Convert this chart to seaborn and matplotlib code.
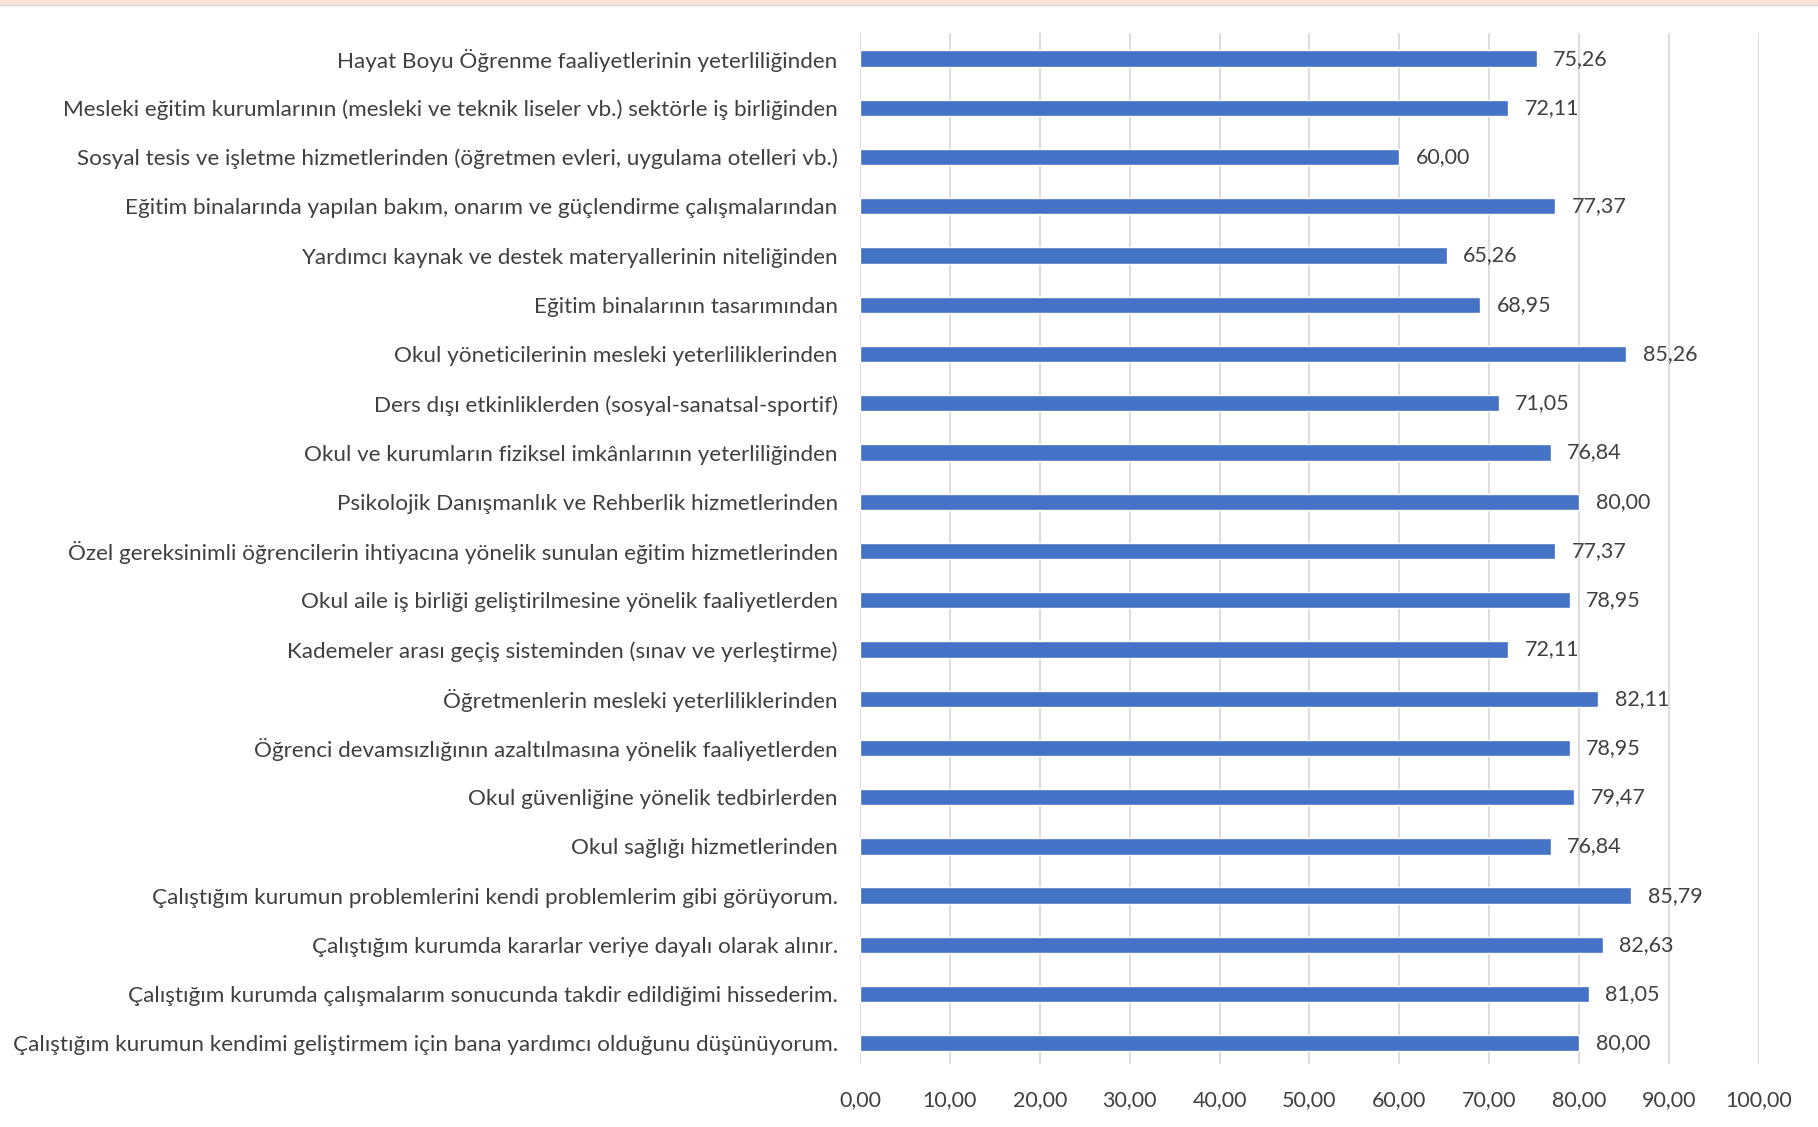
import pandas as pd
import seaborn as sns
import matplotlib.pyplot as plt
import matplotlib.ticker as ticker

# Items, top to bottom as shown in the chart
items = [
    "Hayat Boyu Öğrenme faaliyetlerinin yeterliliğinden",
    "Mesleki eğitim kurumlarının (mesleki ve teknik liseler vb.) sektörle iş birliğinden",
    "Sosyal tesis ve işletme hizmetlerinden (öğretmen evleri, uygulama otelleri vb.)",
    "Eğitim binalarında yapılan bakım, onarım ve güçlendirme çalışmalarından",
    "Yardımcı kaynak ve destek materyallerinin niteliğinden",
    "Eğitim binalarının tasarımından",
    "Okul yöneticilerinin mesleki yeterliliklerinden",
    "Ders dışı etkinliklerden (sosyal-sanatsal-sportif)",
    "Okul ve kurumların fiziksel imkânlarının yeterliliğinden",
    "Psikolojik Danışmanlık ve Rehberlik hizmetlerinden",
    "Özel gereksinimli öğrencilerin ihtiyacına yönelik sunulan eğitim hizmetlerinden",
    "Okul aile iş birliği geliştirilmesine yönelik faaliyetlerden",
    "Kademeler arası geçiş sisteminden (sınav ve yerleştirme)",
    "Öğretmenlerin mesleki yeterliliklerinden",
    "Öğrenci devamsızlığının azaltılmasına yönelik faaliyetlerden",
    "Okul güvenliğine yönelik tedbirlerden",
    "Okul sağlığı hizmetlerinden",
    "Çalıştığım kurumun problemlerini kendi problemlerim gibi görüyorum.",
    "Çalıştığım kurumda kararlar veriye dayalı olarak alınır.",
    "Çalıştığım kurumda çalışmalarım sonucunda takdir edildiğimi hissederim.",
    "Çalıştığım kurumun kendimi geliştirmem için bana yardımcı olduğunu düşünüyorum.",
]
scores = [75.26, 72.11, 60.00, 77.37, 65.26, 68.95, 85.26, 71.05, 76.84, 80.00,
          77.37, 78.95, 72.11, 82.11, 78.95, 79.47, 76.84, 85.79, 82.63, 81.05, 80.00]

df = pd.DataFrame({"item": items, "score": scores})

sns.set_theme(style="white")
plt.rcParams['font.family'] = ['Lato', 'DejaVu Sans']

text_col = "#404040"
fig = plt.figure(figsize=(18.18, 11.27), dpi=100)
ax = fig.add_axes([0.473, 0.0559, 0.4945, 0.9148])

sns.barplot(data=df, x="score", y="item", orient="h", color="#4472C4",
            saturation=1, width=0.33, ax=ax)

ax.set_xlim(0, 100)
ax.set_ylim(20.42, -0.52)
ax.xaxis.set_major_locator(ticker.MultipleLocator(10))
ax.xaxis.set_major_formatter(ticker.FuncFormatter(lambda v, p: f"{v:.2f}".replace(".", ",")))
ax.grid(axis="x", color="#D9D9D9", linewidth=1.3)
ax.set_axisbelow(True)
for s in ax.spines.values():
    s.set_visible(False)
ax.tick_params(axis="x", length=0, labelsize=15.5, labelcolor=text_col, pad=19)
ax.tick_params(axis="y", length=0, labelsize=16.2, labelcolor=text_col, pad=16)
ax.set_xlabel("")
ax.set_ylabel("")

for cont in ax.containers:
    ax.bar_label(cont, labels=[f"{v:.2f}".replace(".", ",") for v in cont.datavalues],
                 padding=12, fontsize=15.5, color=text_col)

# thin peach strip along the top edge
fig.patches.append(plt.Rectangle((0, 0.9955), 1, 0.0045, transform=fig.transFigure,
                                 color="#FCE4D6", zorder=0))
fig.add_artist(plt.Line2D([0, 1], [0.9955, 0.9955], transform=fig.transFigure,
                          color="#D9D9D9", linewidth=1))

fig.savefig("out.png", dpi=100)
